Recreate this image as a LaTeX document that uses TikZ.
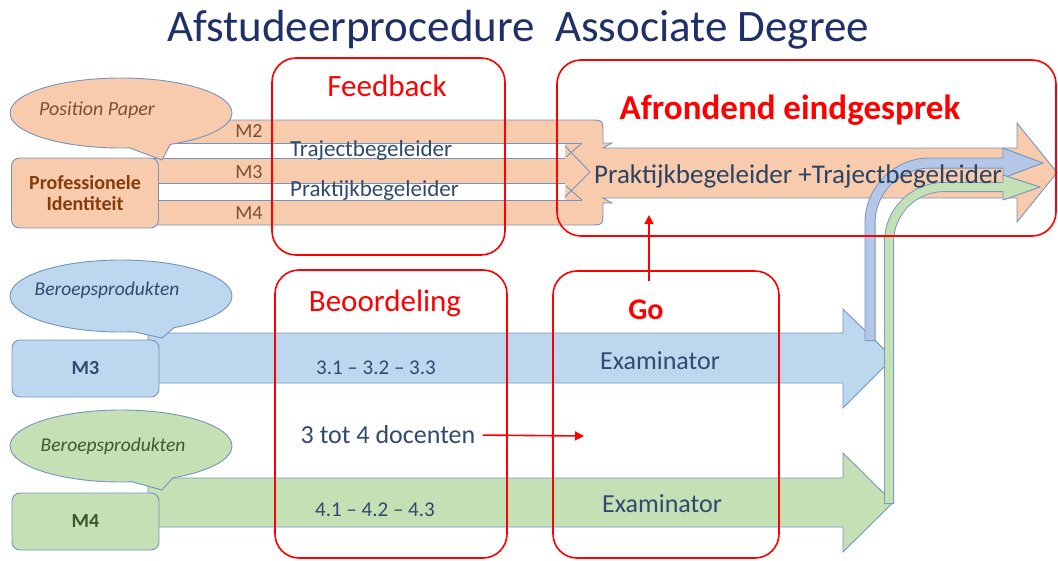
\documentclass[tikz,border=0pt]{standalone}
\usepackage{fontspec}
\setmainfont{Carlito}
\usetikzlibrary{shapes.callouts,arrows.meta}
\definecolor{orfill}{HTML}{F8CBAD}
\definecolor{blfill}{HTML}{BDD7EE}
\definecolor{grfill}{HTML}{C5E0B4}
\definecolor{pipeblue}{HTML}{B4C7E7}
\definecolor{edgec}{HTML}{7394C0}
\definecolor{navy}{HTML}{1F3068}
\definecolor{txtblue}{HTML}{2F4A6E}
\definecolor{brownc}{HTML}{843C0C}
\definecolor{ppbrown}{HTML}{7F4F30}
\definecolor{dkgreen}{HTML}{3A5A2A}
\definecolor{myred}{HTML}{FF0000}
\newcommand{\fs}[1]{\fontsize{#1}{#1}\selectfont}
\begin{document}
\begin{tikzpicture}[x=1pt,y=-1pt,
  shp/.style={draw=edgec, line width=0.9pt},
  redbox/.style={draw=myred, line width=1.6pt, rounded corners=24pt},
  redarr/.style={draw=myred, line width=1.6pt, -{Triangle[length=9pt,width=9pt]}},
  lbl/.style={inner sep=0pt, text=txtblue},
  rtitle/.style={inner sep=0pt, text=myred, font=\fs{31}},
  bubble/.style={ellipse callout, shp, minimum width=222pt, minimum height=70pt, callout pointer arc=22},
  mbox/.style={shp, rounded corners=8pt, minimum width=147pt, font=\bfseries\fs{20}}
]
\useasboundingbox (0,0) rectangle (1058,560);

% title
\node[inner sep=0pt, text=navy, font=\fs{45}] (title) at (518,30) {Afstudeerprocedure\ \ Associate Degree};

% orange merged bands + big arrow
\path[shp, fill=orfill] (150,120) -- (589,120) .. controls (603,120) .. (603,134) -- (603,143) -- (612,143) -- (603,148)
  -- (1017,148) -- (1017,123) -- (1057,172.5) -- (1017,222) -- (1017,198) -- (603,198) -- (612,203) -- (603,203)
  -- (603,211) .. controls (603,225) .. (589,225) -- (150,225) -- cycle;
\fill[white] (140,143) rectangle (565,158);
\fill[white] (140,183) rectangle (565,200);
\draw[shp] (150,143) -- (582,143) (150,158) -- (565,158) (150,183) -- (565,183) (150,200) -- (582,200);
\draw[shp] (565,146) -- (590,172) -- (565,197) (582,143) -- (566,157) (582,200) -- (566,186);

\node[inner sep=0pt, text=ppbrown, font=\fs{20}] (m2) at (249,131) {M2};
\node[inner sep=0pt, text=ppbrown, font=\fs{20}] (m3t) at (249,172) {M3};
\node[inner sep=0pt, text=ppbrown, font=\fs{20}] (m4t) at (249,213) {M4};
\node[lbl, anchor=west, font=\fs{23}] (traj) at (290,150) {Trajectbegeleider};
\node[lbl, anchor=west, font=\fs{23}] (prak) at (290,190) {Praktijkbegeleider};

% blue and green arrows
\path[shp, fill=blfill] (148,333) -- (843,333) -- (843,309) -- (893,358) -- (843,408) -- (843,383) -- (148,383) -- cycle;
\path[shp, fill=grfill] (148,478) -- (843,478) -- (843,453) -- (893,502.5) -- (843,552) -- (843,527) -- (148,527) -- cycle;

% pipes
\draw[edgec, line width=11pt, rounded corners=60pt] (870,341) |- (1005,163);
\path[shp, fill=pipeblue] (1003,148) -- (1043,163) -- (1003,178) -- cycle;
\draw[pipeblue, line width=9.2pt, rounded corners=60pt] (870,340) |- (1004.4,163);
\draw[edgec, line width=10pt, rounded corners=55pt] (889,504) |- (1005,187);
\path[shp, fill=grfill] (1003,175) -- (1040,187) -- (1003,200) -- cycle;
\draw[grfill, line width=8.2pt, rounded corners=55pt] (889,503) |- (1004.4,187);

\node[lbl, font=\fs{27}, text=txtblue!90!black] (pt) at (798,176) {Praktijkbegeleider +Trajectbegeleider};

% callouts and boxes
\node[bubble, fill=orfill, callout absolute pointer={(162,160)}] (ppb) at (121,113) {};
\node[inner sep=0pt, text=ppbrown, font=\itshape\fs{20}] (ppt) at (97,110) {Position Paper};
\node[mbox, fill=orfill, minimum height=70pt, text=brownc, align=center, font=\bfseries\fs{20}] (pid) at (85,193) {Professionele\\[1pt]Identiteit};

\node[bubble, fill=blfill, minimum height=72pt, callout absolute pointer={(162,338)}] (bb) at (121,296) {};
\node[inner sep=0pt, text=txtblue, font=\itshape\fs{19.5}] (bbt) at (107,290) {Beroepsprodukten};
\node[mbox, fill=blfill, minimum height=57pt, text=txtblue] (m3box) at (85.5,368.5) {M3};

\node[bubble, fill=grfill, minimum height=72pt, callout absolute pointer={(162,490)}] (gb) at (121,446) {};
\node[inner sep=0pt, text=dkgreen, font=\itshape\fs{19.5}] (gbt) at (113,446) {Beroepsprodukten};
\node[mbox, fill=grfill, minimum height=57pt, text=dkgreen] (m4box) at (85.5,521.5) {M4};

% texts in lower arrows
\node[lbl, font=\fs{21}] (r3) at (376,368) {3.1 -- 3.2 -- 3.3};
\node[lbl, font=\fs{21}] (r4) at (375,510) {4.1 -- 4.2 -- 4.3};
\node[lbl, font=\fs{26}] (doc) at (388,435) {3 tot 4 docenten};
\node[lbl, font=\fs{26}] (ex1) at (660,361) {Examinator};
\node[lbl, font=\fs{26}] (ex2) at (662,504) {Examinator};

% red boxes
\draw[redbox] (272,58) rectangle (505,255);
\draw[redbox] (557,60) rectangle (1056,236);
\draw[redbox] (275,270) rectangle (507,558);
\draw[redbox] (553,271) rectangle (779,558);
\node[rtitle] (fb) at (387,86) {Feedback};
\node[rtitle, font=\bfseries\fs{35}] (afr) at (790,110) {Afrondend eindgesprek};
\node[rtitle] (beo) at (385,303) {Beoordeling};
\node[rtitle, font=\bfseries\fs{30}] (go) at (646,310) {Go};

% red connectors
\coordinate (gostart) at (649,281);
\coordinate (gotip) at (649,215);
\coordinate (dtip) at (584,436);
\draw[redarr] (gostart) -- (gotip);
\draw[redarr, shorten <=7pt] (doc.east) -- (dtip);
\end{tikzpicture}
\end{document}
